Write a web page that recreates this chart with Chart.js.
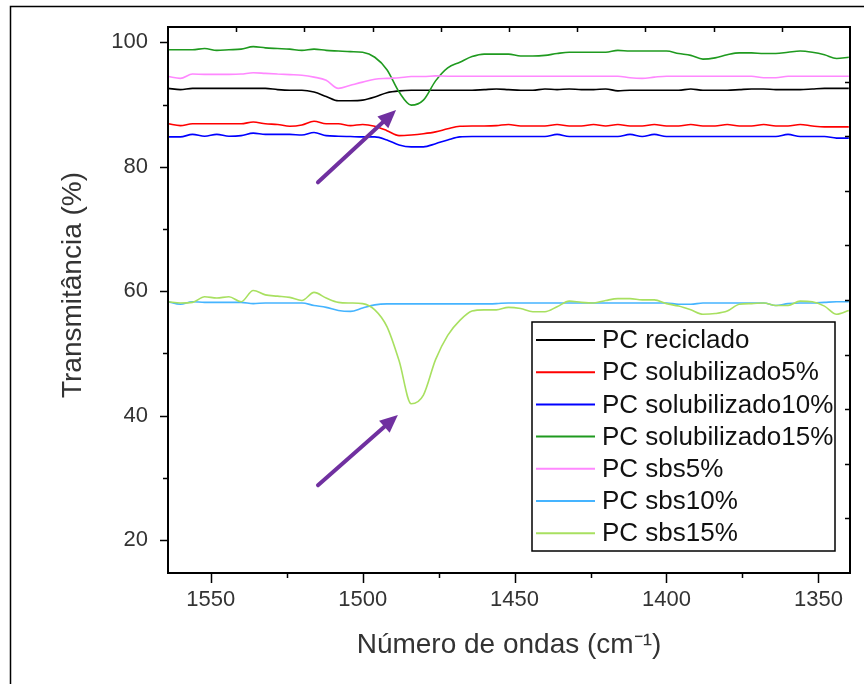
<!DOCTYPE html>
<html>
<head>
<meta charset="utf-8">
<script src="https://cdn.jsdelivr.net/npm/chart.js@4.4.1/dist/chart.umd.min.js"></script>
<style>
  html, body { margin: 0; padding: 0; background: #fff; }
</style>
</head>
<body>
<canvas id="chart" width="864" height="684"></canvas>
<script>
// wavenumber grid (cm-1), every 4 cm-1
const wavenumbers = [
  1564, 1560, 1556, 1552, 1548, 1544, 1540, 1536,
  1532, 1528, 1524, 1520, 1516, 1512, 1508, 1504,
  1500, 1496, 1492, 1488, 1484, 1480, 1476, 1472,
  1468, 1464, 1460, 1456, 1452, 1448, 1444, 1440,
  1436, 1432, 1428, 1424, 1420, 1416, 1412, 1408,
  1404, 1400, 1396, 1392, 1388, 1384, 1380, 1376,
  1372, 1368, 1364, 1360, 1356, 1352, 1348, 1344,
  1340
];

const reciclado = [
  92.6, 92.4, 92.6, 92.6, 92.6, 92.6, 92.6, 92.6,
  92.6, 92.4, 92.3, 92.3, 92.0, 91.3, 90.6, 90.6,
  90.7, 91.2, 91.9, 92.2, 92.3, 92.3, 92.3, 92.3,
  92.3, 92.3, 92.4, 92.5, 92.4, 92.3, 92.3, 92.5,
  92.4, 92.5, 92.4, 92.4, 92.5, 92.2, 92.3, 92.3,
  92.3, 92.3, 92.3, 92.5, 92.3, 92.3, 92.3, 92.4,
  92.5, 92.5, 92.4, 92.4, 92.4, 92.5, 92.6, 92.6,
  92.6
];

const solubilizado5 = [
  86.9, 86.6, 86.9, 86.9, 86.9, 86.9, 86.9, 87.2,
  86.9, 86.8, 86.5, 86.7, 87.3, 86.9, 86.9, 86.6,
  86.8, 86.5, 85.8, 85.0, 85.1, 85.3, 85.6, 86.1,
  86.5, 86.55, 86.55, 86.6, 86.8, 86.55, 86.55, 86.55,
  86.8, 86.55, 86.55, 86.8, 86.55, 86.8, 86.55, 86.55,
  86.8, 86.55, 86.55, 86.8, 86.55, 86.55, 86.8, 86.55,
  86.55, 86.8, 86.55, 86.55, 86.8, 86.55, 86.4, 86.4,
  86.4
];

const solubilizado10 = [
  84.8, 84.8, 85.2, 84.9, 85.2, 84.9, 85.0, 85.4,
  85.2, 85.2, 85.2, 85.1, 85.5, 85.0, 84.9, 84.85,
  84.8, 84.8, 84.3, 83.5, 83.2, 83.2, 83.7, 84.3,
  84.8, 84.85, 84.85, 84.85, 84.85, 84.85, 84.85, 84.85,
  85.2, 84.85, 84.85, 84.85, 84.85, 84.85, 85.2, 84.85,
  85.2, 84.85, 84.85, 84.85, 84.85, 84.85, 84.85, 84.85,
  84.85, 84.85, 84.85, 85.2, 84.85, 84.85, 84.85, 84.6,
  84.6
];

const solubilizado15 = [
  98.8, 98.8, 98.8, 99.0, 98.7, 98.8, 98.9, 99.3,
  99.1, 99.0, 98.9, 98.7, 98.9, 98.7, 98.6, 98.5,
  98.4, 97.6, 95.6, 92.0, 89.9, 90.7, 93.8, 95.9,
  96.8, 97.7, 98.1, 98.1, 98.1, 97.8, 97.8, 97.9,
  98.2, 98.4, 98.4, 98.4, 98.4, 98.7, 98.6, 98.6,
  98.6, 98.6, 98.2, 97.9, 97.3, 97.5, 98.0, 98.3,
  98.3, 98.2, 98.2, 98.4, 98.6, 98.4, 98.0, 97.4,
  97.6
];

const sbs5 = [
  94.5, 94.2, 94.9, 94.85, 94.85, 94.85, 94.9, 95.1,
  95.0, 94.9, 94.8, 94.7, 94.4, 93.9, 92.6, 93.1,
  93.6, 94.05, 94.2, 94.3, 94.5, 94.5, 94.6, 94.55,
  94.55, 94.55, 94.55, 94.55, 94.55, 94.55, 94.55, 94.55,
  94.55, 94.55, 94.55, 94.55, 94.55, 94.55, 94.3, 94.2,
  94.4, 94.55, 94.55, 94.55, 94.55, 94.55, 94.55, 94.55,
  94.55, 94.3, 94.3, 94.55, 94.55, 94.55, 94.55, 94.55,
  94.55
];

const sbs10 = [
  58.3, 57.9, 58.3, 58.2, 58.2, 58.2, 58.2, 58.0,
  58.1, 58.1, 58.1, 58.1, 57.7, 57.4, 56.9, 56.75,
  57.3, 57.8, 57.95, 57.95, 57.95, 57.95, 57.95, 57.95,
  57.95, 57.95, 57.95, 58.0, 58.1, 58.1, 58.1, 58.1,
  58.1, 58.1, 58.1, 58.1, 58.1, 58.1, 58.1, 58.1,
  58.1, 58.1, 57.9, 57.9, 58.1, 58.1, 58.1, 58.1,
  58.1, 58.1, 57.7, 58.0, 58.1, 58.1, 58.2, 58.3,
  58.3
];

const sbs15 = [
  58.3, 58.1, 58.2, 59.1, 58.9, 59.1, 58.3, 60.1,
  59.4, 59.2, 59.0, 58.5, 59.8, 58.9, 58.2, 58.1,
  58.0, 57.0, 54.3, 48.8, 41.9, 43.3, 49.0, 52.9,
  55.3, 56.8, 57.0, 57.0, 57.4, 57.2, 56.7, 56.7,
  57.5, 58.4, 58.2, 58.1, 58.5, 58.8, 58.8, 58.6,
  58.6, 58.0, 57.6, 57.0, 56.3, 56.4, 56.8, 57.9,
  58.0, 58.1, 57.7, 57.7, 58.4, 58.3, 57.6, 56.3,
  56.9
];

const seriesLabels = [
  'PC reciclado', 'PC solubilizado5%', 'PC solubilizado10%', 'PC solubilizado15%',
  'PC sbs5%', 'PC sbs10%', 'PC sbs15%'
];
const seriesValues = [reciclado, solubilizado5, solubilizado10, solubilizado15, sbs5, sbs10, sbs15];
const seriesColors = ['#000000', '#ff0000', '#0000ff', '#1f9a1f', '#ff88ff', '#45b4ff', '#a8e060'];

// axis ticks (labels on the multiples of 50 / 20, the rest are minor)
const xTicks = [1550, 1525, 1500, 1475, 1450, 1425, 1400, 1375, 1350];
const yTicks = [20, 30, 40, 50, 60, 70, 80, 90, 100];

// purple arrows pointing at the bands, in data coordinates
const arrows = [
  { from: [1514.7, 77.5], to: [1489.0, 89.1] },
  { from: [1514.7, 28.8], to: [1488.4, 40.1] }
];

const FONT = "'Liberation Sans', Arial, sans-serif";
Chart.defaults.font.family = FONT;

function drawArrow(ctx, x0, y0, x1, y1) {
  const ang = Math.atan2(y1 - y0, x1 - x0);
  const head = 18, half = 8;
  const bx = x1 - head * Math.cos(ang), by = y1 - head * Math.sin(ang);
  ctx.beginPath();
  ctx.moveTo(x0, y0);
  ctx.lineTo(bx, by);
  ctx.stroke();
  ctx.beginPath();
  ctx.moveTo(x1, y1);
  ctx.lineTo(bx + half * Math.sin(ang), by - half * Math.cos(ang));
  ctx.lineTo(bx - half * Math.sin(ang), by + half * Math.cos(ang));
  ctx.closePath();
  ctx.fill();
}

const decorations = {
  id: 'decorations',
  beforeDraw(chart) {
    const ctx = chart.ctx;
    ctx.save();
    ctx.fillStyle = '#fff';
    ctx.fillRect(0, 0, chart.width, chart.height);
    // outer picture frame (left and top only)
    ctx.strokeStyle = '#000';
    ctx.lineWidth = 1.5;
    ctx.beginPath();
    ctx.moveTo(10.5, chart.height);
    ctx.lineTo(10.5, 6.5);
    ctx.lineTo(chart.width, 6.5);
    ctx.stroke();
    // y axis title
    ctx.translate(73, 285);
    ctx.rotate(-Math.PI / 2);
    ctx.fillStyle = '#333';
    ctx.font = '28px ' + FONT;
    ctx.textAlign = 'center';
    ctx.textBaseline = 'middle';
    ctx.fillText('Transmitância (%)', 0, 0);
    ctx.restore();
  },
  afterDraw(chart) {
    const { ctx, chartArea: a, scales } = chart;
    ctx.save();
    ctx.strokeStyle = '#000';
    ctx.lineWidth = 1.5;
    ctx.beginPath();
    scales.x.ticks.forEach(t => {
      const px = Math.round(scales.x.getPixelForValue(t.value)) + 0.5;
      const len = t.value % 50 === 0 ? 10 : 5;
      ctx.moveTo(px, a.bottom);
      ctx.lineTo(px, a.bottom + len);
    });
    scales.y.ticks.forEach(t => {
      const py = Math.round(scales.y.getPixelForValue(t.value)) + 0.5;
      const len = t.value % 20 === 0 ? 8 : 5;
      ctx.moveTo(a.left, py);
      ctx.lineTo(a.left - len, py);
    });
    for (let k = 1; k < 10; k++) {
      const px = Math.round(scales.xTop.getPixelForValue(k)) + 0.5;
      ctx.moveTo(px, a.top);
      ctx.lineTo(px, a.top + 5);
      const py = Math.round(scales.yRight.getPixelForValue(k)) + 0.5;
      ctx.moveTo(a.right, py);
      ctx.lineTo(a.right - 5, py);
    }
    ctx.stroke();
    ctx.lineWidth = 2;
    ctx.strokeRect(a.left, a.top, a.right - a.left, a.bottom - a.top);

    // arrows
    ctx.strokeStyle = '#7030a0';
    ctx.fillStyle = '#7030a0';
    ctx.lineWidth = 4;
    ctx.lineCap = 'round';
    arrows.forEach(ar => {
      drawArrow(ctx,
        scales.x.getPixelForValue(ar.from[0]), scales.y.getPixelForValue(ar.from[1]),
        scales.x.getPixelForValue(ar.to[0]), scales.y.getPixelForValue(ar.to[1]));
    });
    ctx.lineCap = 'butt';

    // legend box
    const lx = 532, ly = 322, lw = 303, lh = 229, row = 32.2;
    ctx.fillStyle = '#fff';
    ctx.fillRect(lx, ly, lw, lh);
    ctx.strokeStyle = '#000';
    ctx.lineWidth = 1.5;
    ctx.strokeRect(lx, ly, lw, lh);
    ctx.font = '26px ' + FONT;
    ctx.textBaseline = 'middle';
    ctx.textAlign = 'left';
    chart.data.datasets.forEach((ds, i) => {
      const y = ly + 18 + i * row;
      ctx.strokeStyle = ds.borderColor;
      ctx.lineWidth = 2;
      ctx.beginPath();
      ctx.moveTo(lx + 4, y);
      ctx.lineTo(lx + 63, y);
      ctx.stroke();
      ctx.fillStyle = '#111';
      ctx.fillText(ds.label, lx + 70, y + 1);
    });
    ctx.restore();
  }
};

new Chart(document.getElementById('chart'), {
  type: 'line',
  data: {
    datasets: seriesValues.map((vals, i) => ({
      label: seriesLabels[i],
      data: wavenumbers.map((w, j) => ({ x: w, y: vals[j] })),
      borderColor: seriesColors[i],
      backgroundColor: seriesColors[i],
      borderWidth: 1.6,
      pointRadius: 0,
      cubicInterpolationMode: 'monotone',
      order: seriesLabels.length - i,
      xAxisID: 'x',
      yAxisID: 'y'
    }))
  },
  options: {
    responsive: false,
    animation: false,
    layout: { padding: { top: 27, right: 14, bottom: 0, left: 0 } },
    plugins: { legend: { display: false }, tooltip: { enabled: false } },
    scales: {
      x: {
        type: 'linear',
        reverse: true,
        min: 1339.6,
        max: 1564.06,
        grid: { display: false, drawTicks: false },
        border: { display: false },
        afterBuildTicks: s => { s.ticks = xTicks.map(v => ({ value: v })); },
        ticks: {
          autoSkip: false,
          maxRotation: 0,
          padding: 14,
          color: '#333',
          font: { size: 22 },
          callback: v => (v % 50 === 0 ? String(v) : '')
        },
        title: {
          display: true,
          text: 'Número de ondas (cm⁻¹)',
          color: '#333',
          font: { size: 28 },
          padding: { top: 0, bottom: 22 }
        },
        afterFit: s => {
          s.height = 111;
          s.paddingLeft = 0;
          s.paddingRight = 0;
        }
      },
      y: {
        type: 'linear',
        min: 14.7,
        max: 102.46,
        grid: { display: false, drawTicks: false },
        border: { display: false },
        afterBuildTicks: s => { s.ticks = yTicks.map(v => ({ value: v })); },
        ticks: {
          autoSkip: false,
          padding: 20,
          color: '#333',
          font: { size: 22 },
          callback: v => (v % 20 === 0 ? String(v) : '')
        },
        title: { display: false },
        afterFit: s => {
          s.width = 168;
          s.paddingTop = 0;
          s.paddingBottom = 0;
        }
      },
      xTop: { type: 'linear', position: 'top', display: false, min: 0, max: 10 },
      yRight: { type: 'linear', position: 'right', display: false, min: 0, max: 10 }
    }
  },
  plugins: [decorations]
});
</script>
</body>
</html>
